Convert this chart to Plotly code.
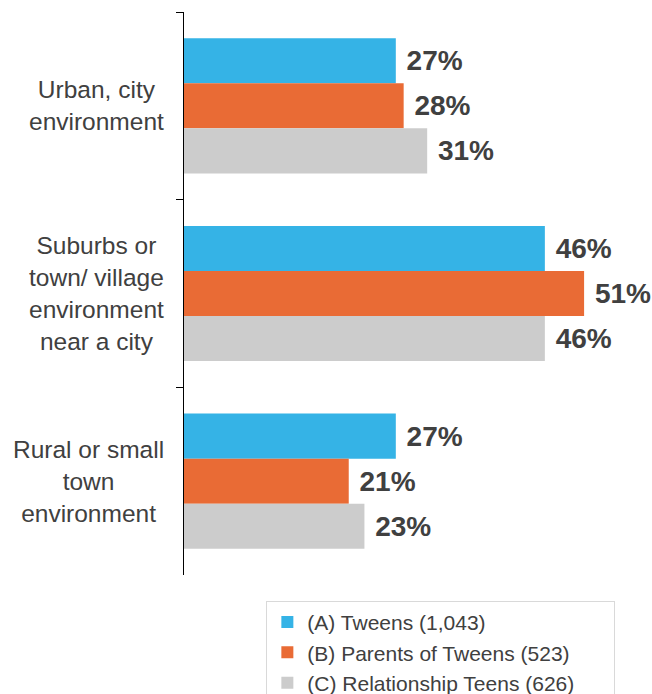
import plotly.graph_objects as go

categories = [
    "Urban, city<br>environment",
    "Suburbs or<br>town/ village<br>environment<br>near a city",
    "Rural or small<br>town<br>environment",
]
series_names = [
    "(A) Tweens (1,043)",
    "(B) Parents of Tweens (523)",
    "(C) Relationship Teens (626)",
]
tweens = [27, 46, 27]
parents = [28, 51, 21]
teens = [31, 46, 23]

colors = ["#35B3E6", "#E96B35", "#CCCCCC"]
FONT = "Liberation Sans, Arial, sans-serif"

fig = go.Figure()

for name, values, color in zip(series_names, [tweens, parents, teens], colors):
    fig.add_trace(
        go.Bar(
            x=values,
            y=categories,
            orientation="h",
            # trailing spaces widen the legend box a little, like the original
            name=name + "\u00a0" * 6,
            marker=dict(color=color, line=dict(width=0)),
            text=[f"\u00a0{v}%" for v in values],
            textposition="outside",
            textfont=dict(family=FONT, size=28, color="#404040", weight="bold"),
            constraintext="none",
            cliponaxis=False,
        )
    )

# category labels: right-aligned block, centred lines
for cat in categories:
    fig.add_annotation(
        x=0,
        xref="paper",
        y=cat,
        yref="y",
        text=cat,
        showarrow=False,
        xanchor="right",
        xshift=-18,
        align="center",
        font=dict(family=FONT, size=24.5, color="#404040"),
    )

fig.update_layout(
    width=652,
    height=694,
    barmode="group",
    bargap=0.28,
    bargroupgap=0,
    margin=dict(l=184, r=13, t=12, b=119, autoexpand=False),
    paper_bgcolor="white",
    plot_bgcolor="white",
    font=dict(family=FONT, color="#404040"),
    showlegend=True,
    legend=dict(
        x=0.181,
        y=-0.046,
        xanchor="left",
        yanchor="top",
        bordercolor="#D9D9D9",
        borderwidth=1,
        bgcolor="white",
        font=dict(family=FONT, size=21, color="#404040"),
        traceorder="normal",
    ),
    xaxis=dict(
        range=[0, 58],
        showgrid=False,
        zeroline=False,
        showline=False,
        showticklabels=False,
        ticks="",
    ),
    yaxis=dict(
        autorange="reversed",
        showgrid=False,
        zeroline=False,
        showline=True,
        linecolor="#000000",
        linewidth=1,
        ticks="outside",
        ticklen=7,
        tickcolor="#000000",
        tickson="boundaries",
        showticklabels=False,
    ),
)

fig.write_html(
    "out.html",
    config={"displayModeBar": False},
    post_script="document.body.style.margin='0';",
)
